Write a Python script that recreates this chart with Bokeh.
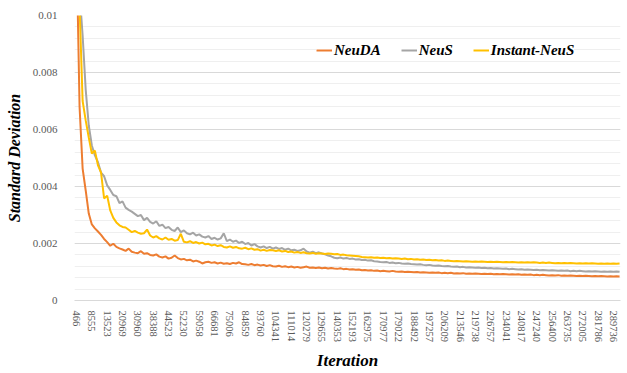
from bokeh.plotting import figure
from bokeh.models import (FixedTicker, SingleIntervalTicker, NumeralTickFormatter,
                          Legend, LegendItem, Range1d)
from bokeh.embed import file_html
from bokeh.resources import INLINE

# Category labels shown on the x axis (every 5th sampled iteration)
iteration_labels = ["466", "8555", "13523", "20969", "30960", "38388", "44523", "52230",
                    "59058", "66681", "75006", "84859", "93760", "104341", "111014", "120279",
                    "129655", "140353", "152193", "162975", "170977", "179022", "188492",
                    "197257", "206209", "213546", "219738", "226757", "234041", "240817",
                    "247240", "256400", "263735", "272005", "281786", "289736"]
label_every = 5

neuda = [
    0.01250, 0.00680, 0.00463, 0.00386, 0.00305, 0.00267, 0.00253, 0.00242, 0.00230, 0.00216,
    0.00205, 0.00192, 0.00199, 0.00188, 0.00183, 0.00179, 0.00174, 0.00182, 0.00171, 0.00168,
    0.00166, 0.00173, 0.00164, 0.00166, 0.00160, 0.00158, 0.00162, 0.00154, 0.00151, 0.00155,
    0.00147, 0.00150, 0.00158, 0.00149, 0.00144, 0.00146, 0.00141, 0.00143, 0.00137, 0.00140,
    0.00136, 0.00130, 0.00134, 0.00136, 0.00132, 0.00134, 0.00130, 0.00133, 0.00129, 0.00131,
    0.00128, 0.00132, 0.00130, 0.00134, 0.00128, 0.00127, 0.00125, 0.00128, 0.00124, 0.00126,
    0.00123, 0.00125, 0.00121, 0.00124, 0.00120, 0.00119, 0.00122, 0.00118, 0.00120, 0.00117,
    0.00119, 0.00116, 0.00118, 0.00115, 0.00117, 0.00119, 0.00115, 0.00116, 0.00114, 0.00116,
    0.00113, 0.00115, 0.00112, 0.00114, 0.00112, 0.00111, 0.00113, 0.00110, 0.00111, 0.00109,
    0.00110, 0.00108, 0.00109, 0.00106, 0.00107, 0.00105, 0.00106, 0.00104, 0.00105, 0.00103,
    0.00104, 0.00103, 0.00102, 0.00104, 0.00102, 0.00101, 0.00102, 0.00100, 0.00101, 0.00100,
    0.00099, 0.00100, 0.00098, 0.00099, 0.00098, 0.00097, 0.00098, 0.00097, 0.00098, 0.00096,
    0.00097, 0.00096, 0.00097, 0.00095, 0.00096, 0.00095, 0.00096, 0.00094, 0.00095, 0.00094,
    0.00095, 0.00094, 0.00093, 0.00094, 0.00093, 0.00094, 0.00092, 0.00093, 0.00092, 0.00093,
    0.00092, 0.00091, 0.00092, 0.00091, 0.00092, 0.00090, 0.00091, 0.00090, 0.00091, 0.00089,
    0.00090, 0.00089, 0.00090, 0.00089, 0.00088, 0.00089, 0.00088, 0.00089, 0.00087, 0.00088,
    0.00087, 0.00088, 0.00087, 0.00086, 0.00087, 0.00086, 0.00087, 0.00086, 0.00085, 0.00086,
    0.00085, 0.00086, 0.00085, 0.00084, 0.00085, 0.00084, 0.00085, 0.00084,
]

neus = [
    0.01400, 0.01080, 0.00930, 0.00740, 0.00614, 0.00544, 0.00509, 0.00485, 0.00449, 0.00436,
    0.00404, 0.00388, 0.00370, 0.00366, 0.00342, 0.00348, 0.00326, 0.00318, 0.00312, 0.00304,
    0.00296, 0.00300, 0.00282, 0.00290, 0.00276, 0.00270, 0.00278, 0.00262, 0.00266, 0.00254,
    0.00258, 0.00248, 0.00244, 0.00256, 0.00240, 0.00246, 0.00236, 0.00232, 0.00238, 0.00228,
    0.00232, 0.00224, 0.00221, 0.00226, 0.00216, 0.00220, 0.00214, 0.00218, 0.00236, 0.00208,
    0.00214, 0.00206, 0.00210, 0.00202, 0.00206, 0.00198, 0.00202, 0.00193, 0.00198, 0.00190,
    0.00186, 0.00190, 0.00184, 0.00188, 0.00182, 0.00186, 0.00181, 0.00184, 0.00178, 0.00182,
    0.00176, 0.00178, 0.00174, 0.00176, 0.00182, 0.00172, 0.00168, 0.00171, 0.00166, 0.00169,
    0.00165, 0.00162, 0.00158, 0.00155, 0.00150, 0.00148, 0.00151, 0.00147, 0.00149, 0.00146,
    0.00147, 0.00144, 0.00145, 0.00142, 0.00143, 0.00140, 0.00141, 0.00138, 0.00137, 0.00135,
    0.00134, 0.00135, 0.00132, 0.00133, 0.00131, 0.00132, 0.00130, 0.00129, 0.00130, 0.00128,
    0.00127, 0.00126, 0.00127, 0.00125, 0.00124, 0.00125, 0.00123, 0.00122, 0.00123, 0.00121,
    0.00120, 0.00121, 0.00119, 0.00118, 0.00119, 0.00117, 0.00118, 0.00116, 0.00117, 0.00116,
    0.00115, 0.00116, 0.00114, 0.00115, 0.00113, 0.00114, 0.00112, 0.00113, 0.00112, 0.00111,
    0.00112, 0.00110, 0.00111, 0.00110, 0.00109, 0.00110, 0.00108, 0.00109, 0.00108, 0.00107,
    0.00108, 0.00106, 0.00107, 0.00106, 0.00105, 0.00106, 0.00105, 0.00104, 0.00105, 0.00104,
    0.00105, 0.00103, 0.00104, 0.00103, 0.00104, 0.00103, 0.00102, 0.00103, 0.00102, 0.00103,
    0.00102, 0.00101, 0.00102, 0.00101, 0.00102, 0.00101, 0.00102, 0.00101,
]

instant_neus = [
    0.01350, 0.01030, 0.00700, 0.00632, 0.00572, 0.00516, 0.00526, 0.00474, 0.00449, 0.00358,
    0.00368, 0.00316, 0.00290, 0.00274, 0.00264, 0.00258, 0.00256, 0.00248, 0.00240, 0.00244,
    0.00238, 0.00234, 0.00236, 0.00249, 0.00228, 0.00221, 0.00226, 0.00218, 0.00214, 0.00221,
    0.00213, 0.00216, 0.00210, 0.00212, 0.00234, 0.00206, 0.00204, 0.00208, 0.00202, 0.00205,
    0.00200, 0.00203, 0.00197, 0.00199, 0.00193, 0.00196, 0.00191, 0.00194, 0.00188, 0.00186,
    0.00190, 0.00185, 0.00188, 0.00183, 0.00182, 0.00185, 0.00180, 0.00183, 0.00178, 0.00180,
    0.00175, 0.00178, 0.00174, 0.00177, 0.00176, 0.00174, 0.00176, 0.00172, 0.00174, 0.00170,
    0.00172, 0.00168, 0.00170, 0.00167, 0.00169, 0.00166, 0.00165, 0.00167, 0.00164, 0.00166,
    0.00165, 0.00163, 0.00165, 0.00164, 0.00162, 0.00163, 0.00160, 0.00161, 0.00159, 0.00158,
    0.00157, 0.00156, 0.00155, 0.00153, 0.00152, 0.00151, 0.00152, 0.00150, 0.00151, 0.00149,
    0.00150, 0.00148, 0.00149, 0.00147, 0.00148, 0.00147, 0.00146, 0.00147, 0.00145, 0.00146,
    0.00144, 0.00145, 0.00143, 0.00144, 0.00142, 0.00143, 0.00141, 0.00142, 0.00140, 0.00141,
    0.00139, 0.00140, 0.00139, 0.00138, 0.00139, 0.00138, 0.00137, 0.00138, 0.00137, 0.00136,
    0.00137, 0.00136, 0.00137, 0.00136, 0.00135, 0.00136, 0.00135, 0.00136, 0.00135, 0.00134,
    0.00135, 0.00134, 0.00135, 0.00134, 0.00133, 0.00134, 0.00133, 0.00134, 0.00133, 0.00134,
    0.00133, 0.00132, 0.00133, 0.00132, 0.00133, 0.00132, 0.00131, 0.00132, 0.00131, 0.00132,
    0.00131, 0.00132, 0.00131, 0.00130, 0.00131, 0.00130, 0.00131, 0.00130, 0.00131, 0.00130,
    0.00129, 0.00130, 0.00129, 0.00130, 0.00129, 0.00130, 0.00129, 0.00130,
]

series_names = ["NeuDA", "NeuS", "Instant-NeuS"]
series_colors = ["#ED7D31", "#A5A5A5", "#FFC000"]
series_values = [neuda, neus, instant_neus]

FONT = "Liberation Serif"

p = figure(width=627, height=373, output_backend="svg", toolbar_location=None,
           x_range=Range1d(-0.65, 177.3), y_range=Range1d(0, 0.01),
           min_border_left=74, min_border_right=7, min_border_top=15, min_border_bottom=73)
p.outline_line_color = None
p.background_fill_color = "white"
p.border_fill_color = "white"

renderers = []
for name, color, vals in zip(series_names, series_colors, series_values):
    xs = list(range(len(vals)))
    r = p.line(xs, vals, line_width=2, line_color=color)
    renderers.append((name, r))

# y axis
p.yaxis.ticker = SingleIntervalTicker(interval=0.002, num_minor_ticks=5)
p.yaxis.formatter = NumeralTickFormatter(format="0.[000]")
p.yaxis.axis_line_color = None
p.yaxis.major_tick_line_color = None
p.yaxis.minor_tick_line_color = None
p.yaxis.major_label_text_font = FONT
p.yaxis.major_label_text_font_size = "11px"
p.yaxis.major_label_text_color = "#595959"
p.yaxis.major_label_standoff = 11
p.yaxis.axis_label = "Standard Deviation"
p.yaxis.axis_label_text_font = FONT
p.yaxis.axis_label_text_font_style = "bold italic"
p.yaxis.axis_label_text_font_size = "16px"
p.yaxis.axis_label_text_color = "black"
p.yaxis.axis_label_standoff = 7

# x axis
ticks = [i * label_every for i in range(len(iteration_labels))]
p.xaxis.ticker = FixedTicker(ticks=ticks)
p.xaxis.major_label_overrides = {t: lab for t, lab in zip(ticks, iteration_labels)}
p.xaxis.major_label_orientation = "vertical"
p.xaxis.axis_line_color = "#d9d9d9"
p.xaxis.major_tick_line_color = None
p.xaxis.minor_tick_line_color = None
p.xaxis.major_label_text_font = FONT
p.xaxis.major_label_text_font_size = "10.5px"
p.xaxis.major_label_text_color = "#595959"
p.xaxis.major_label_standoff = 4
p.xaxis.axis_label = "Iteration"
p.xaxis.axis_label_text_font = FONT
p.xaxis.axis_label_text_font_style = "bold italic"
p.xaxis.axis_label_text_font_size = "17px"
p.xaxis.axis_label_text_color = "black"
p.xaxis.axis_label_standoff = 6

# grid
p.xgrid.grid_line_color = None
p.ygrid.grid_line_color = "#d9d9d9"
p.ygrid.minor_grid_line_color = "#efefef"

legend = Legend(items=[LegendItem(label=n, renderers=[r]) for n, r in renderers],
                location=(242, 241), orientation="horizontal",
                label_text_font=FONT, label_text_font_style="bold italic",
                label_text_font_size="15px", label_text_color="black",
                glyph_width=16, glyph_height=18, label_height=18, label_standoff=2,
                spacing=20, padding=0, margin=0, border_line_color=None,
                background_fill_color="white", background_fill_alpha=1.0)
p.add_layout(legend, "center")

open("out.html", "w").write(file_html(p, INLINE))
